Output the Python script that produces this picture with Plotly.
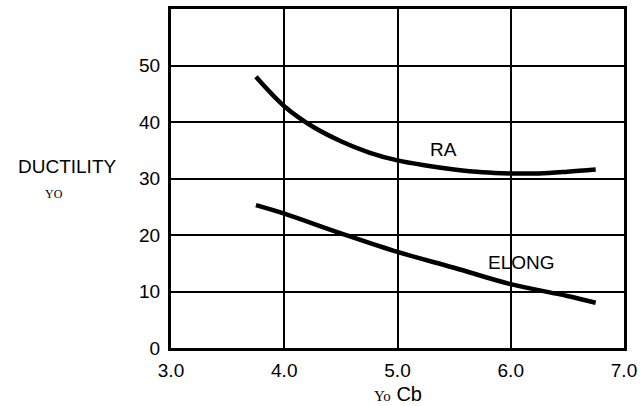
import plotly.graph_objects as go

ra_x = [3.75, 4.0, 4.25, 4.5, 4.75, 5.0, 5.25, 5.5, 5.75, 6.0, 6.25, 6.5, 6.75]
ra_y = [48.0, 42.8, 39.2, 36.6, 34.6, 33.2, 32.3, 31.6, 31.1, 30.9, 30.9, 31.2, 31.6]

el_x = [3.75, 4.0, 4.5, 5.0, 5.5, 6.0, 6.5, 6.75]
el_y = [25.3, 23.8, 20.3, 17.0, 14.2, 11.3, 9.2, 8.0]

x_ticks = [3.0, 4.0, 5.0, 6.0, 7.0]
x_labels = ["3.0", "4.0", "5.0", "6.0", "7.0"]
y_ticks = [0, 10, 20, 30, 40, 50]
y_labels = ["0", "10", "20", "30", "40", "50"]

L, R, T, B = 171, 16, 6, 58
W, H = 643, 406
plot_w = W - L - R
plot_h = H - T - B


def px(xp):
    return (xp - L) / plot_w


def py(yp):
    return (H - B - yp) / plot_h


fig = go.Figure()
fig.add_trace(go.Scatter(x=ra_x, y=ra_y, mode="lines", name="RA",
                         line=dict(color="black", width=4.5, shape="spline")))
fig.add_trace(go.Scatter(x=el_x, y=el_y, mode="lines", name="ELONG",
                         line=dict(color="black", width=4.5, shape="spline")))

font = "Liberation Sans, Arial, sans-serif"
serif = "Liberation Serif, serif"
fs = 19
fig.update_layout(
    width=W, height=H,
    margin=dict(l=L, r=R, t=T, b=B),
    paper_bgcolor="white", plot_bgcolor="white",
    showlegend=False,
    font=dict(family=font, color="black", size=fs),
    xaxis=dict(range=[3, 7], tickvals=x_ticks, ticktext=x_labels,
               showgrid=True, gridcolor="black", gridwidth=1.5,
               showline=True, linecolor="black", linewidth=3, mirror=True,
               zeroline=False, ticks="", ticklabelstandoff=3,
               tickfont=dict(size=fs, family=font)),
    yaxis=dict(range=[0, 60], tickvals=y_ticks, ticktext=y_labels,
               showgrid=True, gridcolor="black", gridwidth=1.5,
               showline=True, linecolor="black", linewidth=3, mirror=True,
               zeroline=False, ticks="", ticklabelstandoff=4,
               tickfont=dict(size=fs, family=font)),
    annotations=[
        dict(x=5.408, y=35.2, xref="x", yref="y", text="RA", showarrow=False,
             xanchor="center", yanchor="middle",
             font=dict(size=fs, family=font)),
        dict(x=6.096, y=15.2, xref="x", yref="y", text="ELONG", showarrow=False,
             xanchor="center", yanchor="middle",
             font=dict(size=fs, family=font)),
        dict(x=px(67), y=py(165), xref="paper", yref="paper", text="DUCTILITY",
             xanchor="center", yanchor="middle",
             showarrow=False, font=dict(size=fs, family=font)),
        dict(x=px(53), y=py(193), xref="paper", yref="paper", text="YO",
             xanchor="center", yanchor="middle",
             showarrow=False, font=dict(size=12, family=serif)),
        dict(x=px(399), y=py(394), xref="paper", yref="paper",
             xanchor="center", yanchor="middle",
             text="<span style='font-family:Liberation Serif;font-size:15px'>Yo</span> Cb",
             showarrow=False, font=dict(size=20, family=font)),
    ],
)

fig.write_html("out.html")
